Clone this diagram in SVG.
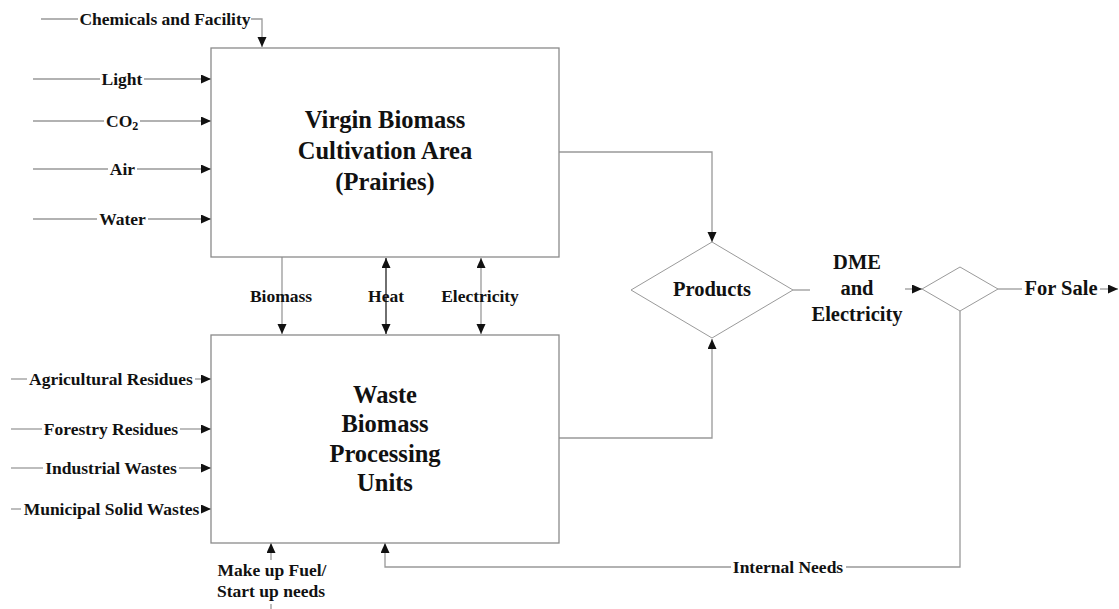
<svg xmlns="http://www.w3.org/2000/svg" width="1119" height="609" viewBox="0 0 1119 609">
<defs>
<marker id="ah" markerUnits="userSpaceOnUse" markerWidth="11" markerHeight="10" refX="10" refY="4.5" orient="auto-start-reverse"><path d="M0,0 L10,4.5 L0,9 z" fill="#111"/></marker>
<style>
.box{fill:#fff;stroke:#8a8a8a;stroke-width:1.3}
.dia{fill:#fff;stroke:#9a9a9a;stroke-width:1}
.ln{fill:none;stroke:#999;stroke-width:1.3}
.lk{fill:none;stroke:#222;stroke-width:1.3}
.arr{marker-end:url(#ah)}
.dbl{marker-start:url(#ah);marker-end:url(#ah)}
text{font-family:"Liberation Serif","Times New Roman",serif;font-weight:bold;fill:#111}
.s{font-size:17.5px}
.m{font-size:20.5px}
.b{font-size:24.5px}
.c{text-anchor:middle}
</style>
</defs>
<g id="connectors">
<path class="ln arr" d="M41,19 H78 M251,19 H262 V47"/>
<path class="ln" d="M33,79 H100"/><path class="ln arr" d="M144,79 H211"/>
<path class="ln" d="M33,121 H104"/><path class="ln arr" d="M140,121 H211"/>
<path class="ln" d="M33,169 H108"/><path class="ln arr" d="M137,169 H211"/>
<path class="ln" d="M33,219 H97"/><path class="ln arr" d="M148,219 H211"/>
<path class="ln" d="M11,379 H27"/><path class="ln arr" d="M195,379 H211"/>
<path class="ln" d="M11,429 H42"/><path class="ln arr" d="M180,429 H211"/>
<path class="ln" d="M11,468 H43"/><path class="ln arr" d="M179,468 H211"/>
<path class="ln" d="M11,509 H21"/><path class="ln arr" d="M202,509 H211"/>
<path class="ln arr" d="M282,257 V334"/>
<path class="lk dbl" d="M386,258 V334"/>
<path class="ln dbl" d="M481,258 V334"/>
<path class="ln arr" d="M559,152 H712 V242"/>
<path class="ln arr" d="M559,438 H712 V339"/>
<path class="ln" d="M793,290 H810"/>
<path class="ln arr" d="M905,289 H922"/>
<path class="ln" d="M998,289 H1022"/>
<path class="ln arr" d="M1100,289 H1118"/>
<path class="ln" d="M960,311 V567 H846"/>
<path class="ln arr" d="M731,567 H385 V543"/>
<path class="ln arr" d="M271,560 V543"/>
<path class="ln" d="M271,604 V609"/>
</g>
<g id="virgin">
<rect class="box" x="211" y="48" width="348" height="209"/>
<text class="b c" x="385" y="128">Virgin Biomass</text>
<text class="b c" x="385" y="159">Cultivation Area</text>
<text class="b c" x="385" y="190">(Prairies)</text>
</g>
<g id="waste">
<rect class="box" x="211" y="335" width="348" height="208"/>
<text class="b c" x="385" y="403">Waste</text>
<text class="b c" x="385" y="432">Biomass</text>
<text class="b c" x="385" y="462">Processing</text>
<text class="b c" x="385" y="491">Units</text>
</g>
<g id="products">
<polygon class="dia" points="712,242 793,290 712,338 631,290"/>
<text class="m c" x="712" y="296">Products</text>
</g>
<g id="split">
<polygon class="dia" points="960,267 998,289 960,311 922,289"/>
</g>
<g id="labels">
<text class="s c" x="165" y="25">Chemicals and Facility</text>
<text class="s c" x="122" y="85">Light</text>
<text class="s" x="106" y="127">CO<tspan font-size="12" dy="3">2</tspan></text>
<text class="s c" x="122.5" y="175">Air</text>
<text class="s c" x="122.5" y="225">Water</text>
<text class="s c" x="111" y="385">Agricultural Residues</text>
<text class="s c" x="111" y="435">Forestry Residues</text>
<text class="s c" x="111" y="474">Industrial Wastes</text>
<text class="s c" x="111.5" y="515">Municipal Solid Wastes</text>
<text class="s c" x="281" y="302">Biomass</text>
<text class="s c" x="386" y="302">Heat</text>
<text class="s c" x="480" y="302">Electricity</text>
<text class="m c" x="857" y="269">DME</text>
<text class="m c" x="857" y="295">and</text>
<text class="m c" x="857" y="321">Electricity</text>
<text class="m c" x="1061" y="295">For Sale</text>
<text class="s c" x="788" y="573">Internal Needs</text>
<text class="s c" x="272" y="576">Make up Fuel/</text>
<text class="s c" x="271" y="597">Start up needs</text>
</g>
</svg>
